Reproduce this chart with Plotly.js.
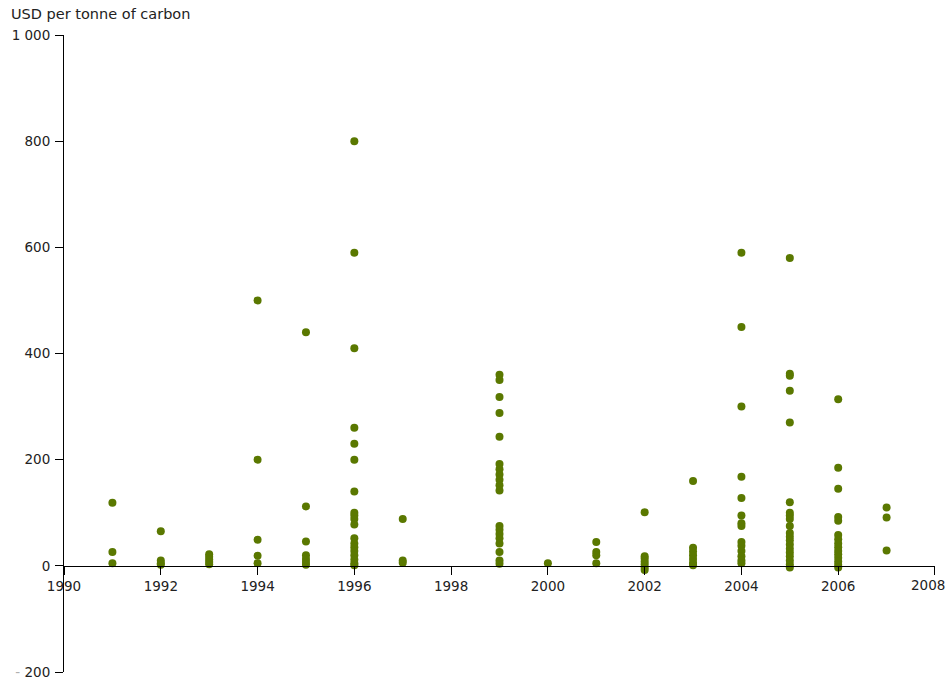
<!DOCTYPE html>
<html>
<head>
<meta charset="utf-8">
<script src="https://cdn.plot.ly/plotly-3.0.1.min.js"></script>
<style>
  html, body { margin: 0; padding: 0; background: #fff; }
  #chart { width: 948px; height: 683px; }
</style>
</head>
<body>
<div id="chart"></div>
<script>
// Carbon prices observed per year (USD per tonne of carbon)
const years = [1991, 1992, 1993, 1994, 1995, 1996, 1997, 1999, 2000, 2001, 2002, 2003, 2004, 2005, 2006, 2007];

const p1991 = [119, 26, 5];
const p1992 = [65, 10, 5, 2];
const p1993 = [22, 17, 12, 7, 3];
const p1994 = [500, 200, 49, 19, 5];
const p1995 = [440, 112, 46, 20, 13, 7, 2];
const p1996 = [800, 590, 410, 260, 230, 200, 140, 100, 95, 88, 78, 52, 42, 35, 28, 20, 12, 5, 1];
const p1997 = [88, 10, 6];
const p1999 = [360, 350, 318, 288, 243, 192, 182, 172, 162, 152, 142, 75, 68, 60, 52, 42, 26, 10, 4];
const p2000 = [5];
const p2001 = [45, 26, 20, 5];
const p2002 = [101, 18, 14, 8, 3, -3, -8];
const p2003 = [160, 34, 27, 20, 13, 6, 1];
const p2004 = [590, 450, 300, 168, 128, 95, 80, 75, 45, 38, 28, 18, 10, 5];
const p2005 = [580, 362, 358, 330, 270, 120, 100, 95, 88, 75, 62, 55, 48, 40, 32, 25, 18, 10, 3, -3];
const p2006 = [314, 185, 145, 92, 85, 58, 50, 42, 35, 28, 22, 15, 8, 2, -3];
const p2007 = [110, 91, 29];

const pricesByYear = [p1991, p1992, p1993, p1994, p1995, p1996, p1997, p1999,
                      p2000, p2001, p2002, p2003, p2004, p2005, p2006, p2007];

const yTickVals = [-200, 0, 200, 400, 600, 800, 1000];
const yTickText = ['<span style="color:#b0b0b0">-</span> 200', '0', '200', '400', '600', '800', '1 000'];
const xTickVals = [1990, 1992, 1994, 1996, 1998, 2000, 2002, 2004, 2006, 2008];
const X_LAST = 2008;
// the last year is labelled separately, right-aligned so it stays on the page
const xTickText = xTickVals.map(v => (v === X_LAST ? '' : String(v)));

// flatten into one scatter series
const xs = [], ys = [];
years.forEach((yr, i) => {
  pricesByYear[i].forEach(v => { xs.push(yr); ys.push(v); });
});

const trace = {
  type: 'scatter',
  mode: 'markers',
  x: xs,
  y: ys,
  marker: { color: '#5a7800', size: 8, line: { width: 0 } },
  hoverinfo: 'x+y'
};

const fontFam = 'DejaVu Sans, Verdana, sans-serif';
const tickFont = { family: fontFam, size: 13.5, color: '#222' };
const Y_MIN = -200, Y_MAX = 1000;
const X_MIN = 1990, X_MAX = 2008;
const EPS = 0.0005; // keeps the end ticks inside the range

const axisCommon = {
  showgrid: false,
  zeroline: false,
  showline: true,
  linecolor: '#000',
  linewidth: 1,
  ticks: 'outside',
  ticklen: 8,
  tickcolor: '#000',
  tickfont: tickFont,
  fixedrange: true
};

const layout = {
  width: 948,
  height: 683,
  margin: { l: 64, r: 13, t: 35, b: 11 },
  paper_bgcolor: '#ffffff',
  plot_bgcolor: '#ffffff',
  showlegend: false,
  font: { family: fontFam, size: 13.5, color: '#222' },
  xaxis: Object.assign({}, axisCommon, {
    range: [X_MIN - EPS, X_MAX + EPS],
    tickvals: xTickVals,
    ticktext: xTickText,
    anchor: 'free',
    // the horizontal axis sits at the zero level of the price scale
    position: (0 - Y_MIN) / (Y_MAX - Y_MIN)
  }),
  yaxis: Object.assign({}, axisCommon, {
    range: [Y_MIN, Y_MAX],
    tickvals: yTickVals,
    ticktext: yTickText,
    ticklabelstandoff: 2
  }),
  annotations: [
    {
      text: 'USD per tonne of carbon',
      xref: 'paper', yref: 'paper',
      x: -55 / 871, y: 1,
      xanchor: 'left', yanchor: 'bottom',
      yshift: 11,
      showarrow: false,
      font: { family: fontFam, size: 14.5, color: '#222' }
    },
    {
      text: String(X_LAST),
      xref: 'x', yref: 'y',
      x: X_LAST, y: 0,
      xanchor: 'right', yanchor: 'top',
      xshift: 12, yshift: -9,
      showarrow: false,
      font: tickFont
    }
  ]
};

Plotly.newPlot('chart', [trace], layout, { displayModeBar: false, staticPlot: true });
</script>
</body>
</html>
